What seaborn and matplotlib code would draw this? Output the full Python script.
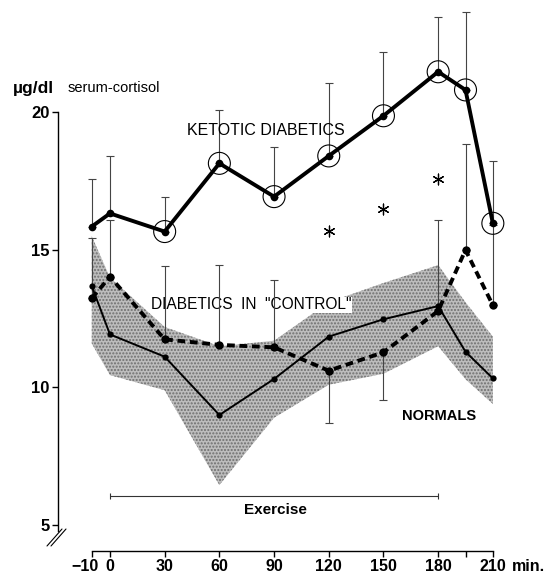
import numpy as np
import pandas as pd
import matplotlib.pyplot as plt
import seaborn as sns

minutes = [-10, 0, 30, 60, 90, 120, 150, 180, 195, 210]
x_labels = ['', '0', '30', '60', '90', '120', '150', '180', '', '210']

ketotic = [15.85, 16.33, 15.67, 18.15, 16.94, 18.42, 19.88, 21.48, 20.82, 15.97]
ketotic_top = [17.57, 18.42, 16.92, 20.10, 18.76, 21.08, 22.21, 23.46, 23.67, 18.24]

control = [13.24, 14.03, 11.75, 11.55, 11.46, 10.61, 11.28, 12.78, 15.00, 12.99]
control_bar_end = [15.44, 16.09, 14.42, 14.45, 13.91, 8.71, 9.55, 16.09, 18.85, 15.90]

normals = [13.69, 11.93, 11.12, 9.00, 10.31, 11.85, 12.48, 12.96, 11.30, 10.33]
normals_upper = [15.50, 14.00, 12.20, 11.50, 11.70, 13.10, 13.80, 14.45, 13.10, 11.85]
normals_lower = [11.60, 10.45, 9.90, 6.45, 8.90, 10.10, 10.50, 11.50, 10.30, 9.40]

star_minutes = [120, 150, 180]
star_values = [15.69, 16.49, 17.58]

sns.set_style('ticks')
plt.rcParams['font.family'] = ['Liberation Sans', 'DejaVu Sans']
plt.rcParams['hatch.linewidth'] = 1.0
plt.rcParams['text.color'] = 'black'
plt.rcParams['axes.edgecolor'] = 'black'
plt.rcParams['xtick.color'] = 'black'
plt.rcParams['ytick.color'] = 'black'

df = pd.DataFrame({'min': minutes, 'ketotic': ketotic, 'control': control,
                   'normals': normals})

fig = plt.figure(figsize=(5.5, 5.74), dpi=100)
ax = fig.add_axes([58 / 550, 0, 487 / 550, 1])
ax.set_xlim(-28.5, 238.6)
ax.set_ylim(3.218, 24.09)

# normals: mean with shaded SD band
ax.fill_between(minutes, normals_lower, normals_upper, facecolor='#bdbdbd',
                edgecolor='#6e6e6e', hatch='.....', linewidth=0, zorder=1)

# error bars
k = np.array(ketotic)
kt = np.array(ketotic_top)
ax.errorbar(minutes, k, yerr=[np.zeros_like(k), kt - k], fmt='none',
            ecolor='#444444', elinewidth=0.8, capsize=3, capthick=0.8, zorder=2)
c = np.array(control)
ce = np.array(control_bar_end)
ax.errorbar(minutes, c, yerr=[np.clip(c - ce, 0, None), np.clip(ce - c, 0, None)],
            fmt='none', ecolor='#444444', elinewidth=0.8, capsize=3,
            capthick=0.8, zorder=2)

sns.lineplot(data=df, x='min', y='normals', ax=ax, color='black', lw=1.4,
             marker='o', markersize=4.5, markeredgewidth=0, zorder=3)
sns.lineplot(data=df, x='min', y='control', ax=ax, color='black', lw=2.8,
             linestyle=(0, (2, 1.2)), marker='o', markersize=6,
             markeredgewidth=0, zorder=4)
sns.lineplot(data=df, x='min', y='ketotic', ax=ax, color='black', lw=2.8,
             marker='o', markersize=5.5, markeredgewidth=0, zorder=5)
circled = df[df['min'] >= 30]
sns.scatterplot(data=circled, x='min', y='ketotic', ax=ax, s=250,
                facecolors='none', edgecolor='black', linewidth=0.8, zorder=6)

sns.scatterplot(x=star_minutes, y=star_values, ax=ax, marker=(6, 2, 0), s=60,
                color='black', linewidth=0.9, zorder=6)

# labels
ax.text(85.6, 19.36, 'KETOTIC DIABETICS', fontsize=11.5, ha='center', va='center')
ax.text(77.3, 13.0, 'DIABETICS  IN  "CONTROL"', fontsize=11.2, ha='center',
        va='center', zorder=1.5,
        bbox=dict(facecolor='white', edgecolor='none', pad=0.5))
ax.text(180.7, 8.96, 'NORMALS', fontsize=10.5, fontweight='bold', ha='center',
        va='center')

# exercise period
ax.errorbar([90], [6.06], xerr=[[90], [90]], fmt='none', ecolor='#333333',
            elinewidth=0.8, capsize=2.5, capthick=0.8)
ax.text(91, 5.55, 'Exercise', fontsize=11, fontweight='bold', ha='center',
        va='center')

# axes
sns.despine(ax=ax)
ax.spines['left'].set_bounds(4.78, 20)
ax.spines['bottom'].set_position(('data', 4.055))
ax.spines['bottom'].set_bounds(-10, 210)
ax.spines['left'].set_linewidth(1.0)
ax.spines['bottom'].set_linewidth(1.0)
ax.set_yticks([5, 10, 15, 20], ['5', '10', '15', '20'], fontsize=12,
              fontweight='bold')
ax.set_xticks(minutes, x_labels, fontsize=11.5, fontweight='bold')
ax.tick_params(axis='both', direction='out', length=4, width=1, pad=2)
ax.set_xlabel('')
ax.set_ylabel('')
# the -10 label sits a little left of its tick, "min." follows 210
ax.text(-13.5, 3.75, '\u221210', fontsize=11.5, fontweight='bold',
        ha='center', va='top')
ax.text(220.5, 3.75, 'min.', fontsize=11.5, fontweight='bold', ha='left',
        va='top')

# axis break marks
for dx in (0, 4):
    ax.plot([(47 + dx - 58) / 487, (62 + dx - 58) / 487],
            [1 - 546 / 574, 1 - 529 / 574], transform=ax.transAxes,
            color='black', lw=0.8, clip_on=False)

fig.text(13 / 550, 1 - 88 / 574, '\u00b5g/dl', fontsize=12.5, fontweight='bold',
         ha='left', va='center')
fig.text(68 / 550, 1 - 88 / 574, 'serum-cortisol', fontsize=10.5,
         ha='left', va='center')

fig.savefig('out.png', dpi=100)
